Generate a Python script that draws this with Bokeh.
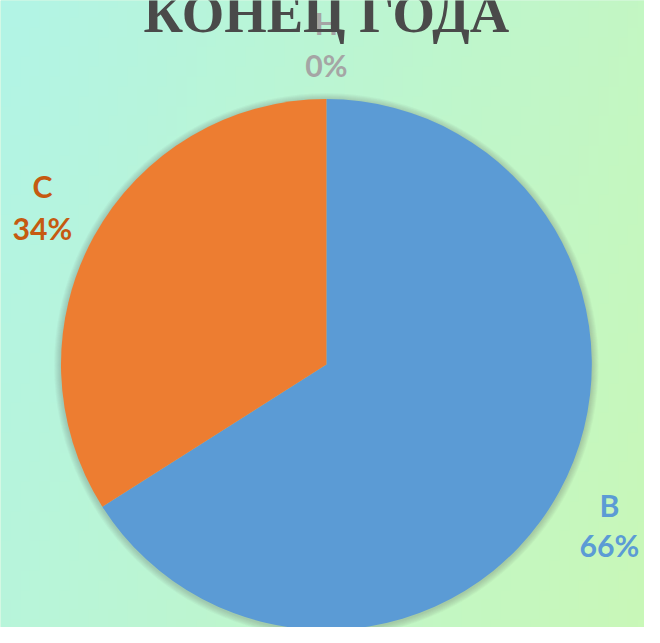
import numpy as np
from bokeh.plotting import figure
from bokeh.models import Range1d, ColumnDataSource
from bokeh.core.properties import value
from bokeh.embed import file_html
from bokeh.resources import INLINE

# ---- data ----
title_text = "КОНЕЦ ГОДА"
categories = ["В", "С", "Н"]
values = [66, 34, 0]
colors = ["#5B9BD5", "#ED7D31", "#A5A5A5"]
label_colors = ["#5B9BD5", "#C55A11", "#A5A5A5"]
pct_labels = ["66%", "34%", "0%"]

# ---- layout (reference pixel space, 660 x 643, y measured up from bottom) ----
W, H = 644, 627
RW, RH = 660, 643
s = W / RW
p = figure(width=W, height=H, output_backend="svg", toolbar_location=None,
           x_range=Range1d(0, RW), y_range=Range1d(RH - H / s, RH), min_border=0)
p.axis.visible = False
p.grid.visible = False
p.outline_line_color = None
p.background_fill_color = "#bff6d0"
p.border_fill_color = "#bff6d0"

# background gradient (aqua left -> light green right)
nx, ny = 66, 64
xs = np.linspace(0, 1, nx)[None, :]
ys = np.linspace(0, 1, ny)[:, None]
t = np.clip(0.75 * xs + 0.25 * (1 - ys), 0, 1)
left = np.array([0xB2, 0xF4, 0xE6])
right = np.array([0xC9, 0xF8, 0xB8])
rgb = left[None, None, :] * (1 - t[..., None]) + right[None, None, :] * t[..., None]
img = np.empty((ny, nx), dtype=np.uint32)
view = img.view(dtype=np.uint8).reshape((ny, nx, 4))
view[..., 0] = rgb[..., 0]
view[..., 1] = rgb[..., 1]
view[..., 2] = rgb[..., 2]
view[..., 3] = 255
p.image_rgba(image=[img], x=0, y=RH - H / s - 2, dw=RW + 2, dh=H / s + 4)

# pie geometry
cx, cy, R = 334, RH - 373, 272

# soft shadow
for i in range(1, 8):
    p.circle(x=[cx], y=[cy - 1], radius=R + i, fill_color="#556655",
             fill_alpha=0.045, line_color=None)

vals = np.array(values, dtype=float)
fr = vals / vals.sum()
cum = np.concatenate([[0], np.cumsum(fr)])
# clockwise from top
start = np.pi / 2 - cum[1:] * 2 * np.pi
end = np.pi / 2 - cum[:-1] * 2 * np.pi
keep = vals > 0
src = ColumnDataSource(dict(start=start[keep], end=end[keep],
                            color=[c for c, k in zip(colors, keep) if k]))
p.wedge(x=cx, y=cy, radius=R, start_angle="start", end_angle="end",
        fill_color="color", line_color=None, source=src)

# labels (positions in reference pixels)
lab_x = [624, 43, 334]
cat_y = [517, 190, 23]
pct_y = [558, 233, 66]
fs = f"{31 * s:.1f}px"
font = value("Lato")
for i in range(len(categories)):
    p.text(x=[lab_x[i]], y=[RH - cat_y[i]], text=[categories[i]], text_color=label_colors[i],
           text_font=font, text_font_style="bold", text_font_size=fs,
           text_align="center", text_baseline="middle")
    p.text(x=[lab_x[i]], y=[RH - pct_y[i]], text=[pct_labels[i]], text_color=label_colors[i],
           text_font=font, text_font_style="bold", text_font_size=fs,
           text_align="center", text_baseline="middle")

# title (partly cut off at top, as in the reference)
p.text(x=[334], y=[RH - 13], text=[title_text], text_color="#4A4A4A",
       text_font=value("Liberation Serif"), text_font_style="bold",
       text_font_size=f"{56 * s:.1f}px", text_align="center", text_baseline="alphabetic")

open("out.html", "w").write(file_html(p, INLINE))
